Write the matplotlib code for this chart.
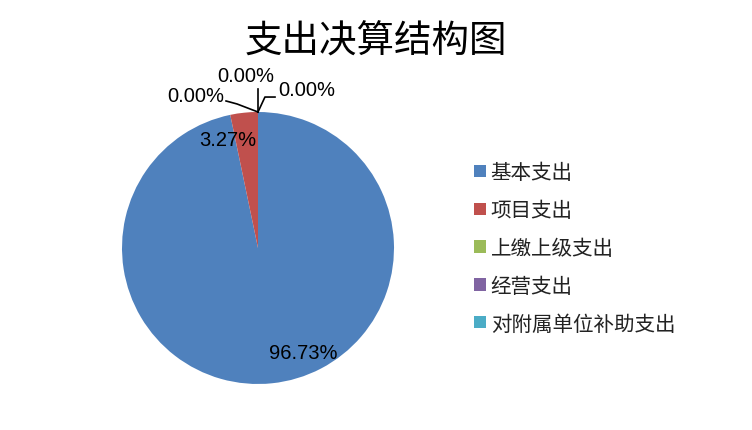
import matplotlib
matplotlib.use("Agg")
import matplotlib.pyplot as plt

plt.rcParams['font.family'] = ['Noto Sans CJK SC', 'DejaVu Sans']

# 数据
categories = ['基本支出', '项目支出', '上缴上级支出', '经营支出', '对附属单位补助支出']
values = [96.73, 3.27, 0.0, 0.0, 0.0]
colors = ['#4F81BD', '#C0504D', '#9BBB59', '#8064A2', '#4BACC6']
title = '支出决算结构图'

fig = plt.figure(figsize=(7.52, 4.31), dpi=100)
fig.patch.set_facecolor('white')

# 饼图区域 (像素: 122..394 x 113..385)
W, H = 752, 431
ax = fig.add_axes([122 / W, (H - 385) / H, 272 / W, 272 / H])

wedges, _ = ax.pie(values, colors=colors, startangle=90, counterclock=False,
                   radius=1, center=(0, 0), frame=True,
                   wedgeprops=dict(linewidth=0))
ax.set_xlim(-1, 1)
ax.set_ylim(-1, 1)
ax.set_aspect('equal')
ax.axis('off')

lab_font = dict(family=['Liberation Sans', 'DejaVu Sans'], fontsize=14.5, color='black')

# 数据标签
ax.text(0.33, -0.765, f'{values[0]:.2f}%', ha='center', va='center', clip_on=False, **lab_font)
ax.text(-0.22, 0.80, f'{values[1]:.2f}%', ha='center', va='center', clip_on=False, **lab_font)

# 0% 标签与引导线
zero_labels = [(-0.46, 1.118), (-0.09, 1.265), (0.36, 1.162)]
leaders = [
    [(-0.235, 1.081), (-0.154, 1.059), (0, 1.0)],
    [(0, 1.169), (0, 1.0)],
    [(0, 1.0), (0.051, 1.110), (0.125, 1.110)],
]
for i, (pos, line) in enumerate(zip(zero_labels, leaders)):
    ax.text(pos[0], pos[1], f'{values[2 + i]:.2f}%', ha='center', va='center',
            clip_on=False, **lab_font)
    xs, ys = zip(*line)
    ax.plot(xs, ys, color='black', lw=1.2, clip_on=False)

fig.text(376 / W, 1 - 42 / H, title, ha='center', va='center', fontsize=27)

leg = fig.legend(wedges, categories, loc='upper left',
                 bbox_to_anchor=(466 / W, 1 - 154 / H),
                 frameon=False, fontsize=14.8, handlelength=0.55, handleheight=0.55,
                 handletextpad=0.25, labelspacing=0.77, borderaxespad=0)
for t in leg.get_texts():
    t.set_color('#222222')

fig.savefig('out.png', dpi=100, facecolor='white')
